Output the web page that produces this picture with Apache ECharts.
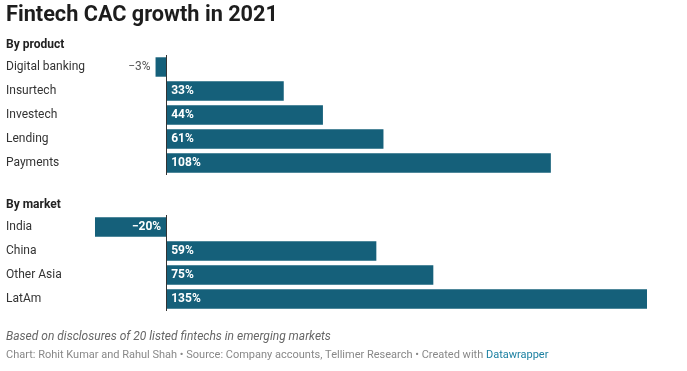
<!DOCTYPE html>
<html><head><meta charset="utf-8">
<script src="https://cdn.jsdelivr.net/npm/echarts@6/dist/echarts.min.js"></script>
<style>html,body{margin:0;padding:0;background:#fff}#c{width:687px;height:371px}</style>
</head><body><div id="c"></div>
<script>
const products = ['Digital banking', 'Insurtech', 'Investech', 'Lending', 'Payments'];
const productValues = [-3, 33, 44, 61, 108];
const markets = ['India', 'China', 'Other Asia', 'LatAm'];
const marketValues = [-20, 59, 75, 135];
const xMin = -20, xMax = 135;

const FONT = 'Roboto';
const BAR = '#15607a';
const fmt = v => (v < 0 ? '\u2212' + Math.abs(v) : v) + '%';
function items(vals) {
  return vals.map(v => {
    let label;
    if (v >= 0) label = {position: 'insideLeft', distance: 5, color: '#fff', fontWeight: 'bold'};
    else if (v <= -10) label = {position: 'insideRight', distance: 5, color: '#fff', fontWeight: 'bold'};
    else label = {position: 'left', distance: 5, color: '#555', fontWeight: 'normal'};
    return {value: v, label};
  });
}
const chart = echarts.init(document.getElementById('c'));
const baseLabel = {show: true, fontFamily: FONT, fontSize: 12, formatter: p => fmt(p.value)};
chart.setOption({
  animation: false,
  textStyle: {fontFamily: FONT},
  title: [
    {text: 'Fintech CAC growth in 2021', left: 6, top: 5, padding: 0, textStyle: {fontFamily: FONT, fontSize: 21.7, fontWeight: 'bold', color: '#1d1d1d'}},
    {text: 'By product', left: 6, top: 39, padding: 0, textStyle: {fontFamily: FONT, fontSize: 12, fontWeight: 'bold', color: '#222'}},
    {text: 'By market', left: 6, top: 199, padding: 0, textStyle: {fontFamily: FONT, fontSize: 12, fontWeight: 'bold', color: '#222'}},
    {text: 'Based on disclosures of 20 listed fintechs in emerging markets', left: 6, top: 331, padding: 0, textStyle: {fontFamily: FONT, fontSize: 12, fontStyle: 'italic', fontWeight: 'normal', color: '#666'}},
    {text: 'Chart: Rohit Kumar and Rahul Shah \u2022 Source: Company accounts, Tellimer Research \u2022 Created with {a|Datawrapper}', left: 6, top: 350, padding: 0,
     textStyle: {fontFamily: FONT, fontSize: 11, fontWeight: 'normal', color: '#888', rich: {a: {fontFamily: FONT, fontSize: 11, color: '#1d81a2'}}}}
  ],
  grid: [
    {left: 95, width: 552, top: 55, height: 120, containLabel: false},
    {left: 95, width: 552, top: 215, height: 96, containLabel: false}
  ],
  xAxis: [0, 1].map(i => ({type: 'value', gridIndex: i, min: xMin, max: xMax, show: false, splitLine: {show: false}})),
  yAxis: [
    {type: 'category', gridIndex: 0, data: products, inverse: true, axisLine: {show: false}, axisTick: {show: false},
     axisLabel: {align: 'left', margin: 89, fontFamily: FONT, fontSize: 12, color: '#333'}},
    {type: 'category', gridIndex: 1, data: markets, inverse: true, axisLine: {show: false}, axisTick: {show: false},
     axisLabel: {align: 'left', margin: 89, fontFamily: FONT, fontSize: 12, color: '#333'}}
  ],
  series: [
    {type: 'bar', xAxisIndex: 0, yAxisIndex: 0, data: items(productValues), barCategoryGap: '19%', itemStyle: {color: BAR}, label: baseLabel,
     markLine: {silent: true, symbol: 'none', label: {show: false}, lineStyle: {color: '#333', width: 1, type: 'solid'}, data: [{xAxis: 0}]}},
    {type: 'bar', xAxisIndex: 1, yAxisIndex: 1, data: items(marketValues), barCategoryGap: '19%', itemStyle: {color: BAR}, label: baseLabel,
     markLine: {silent: true, symbol: 'none', label: {show: false}, lineStyle: {color: '#333', width: 1, type: 'solid'}, data: [{xAxis: 0}]}}
  ]
});
</script></body></html>
